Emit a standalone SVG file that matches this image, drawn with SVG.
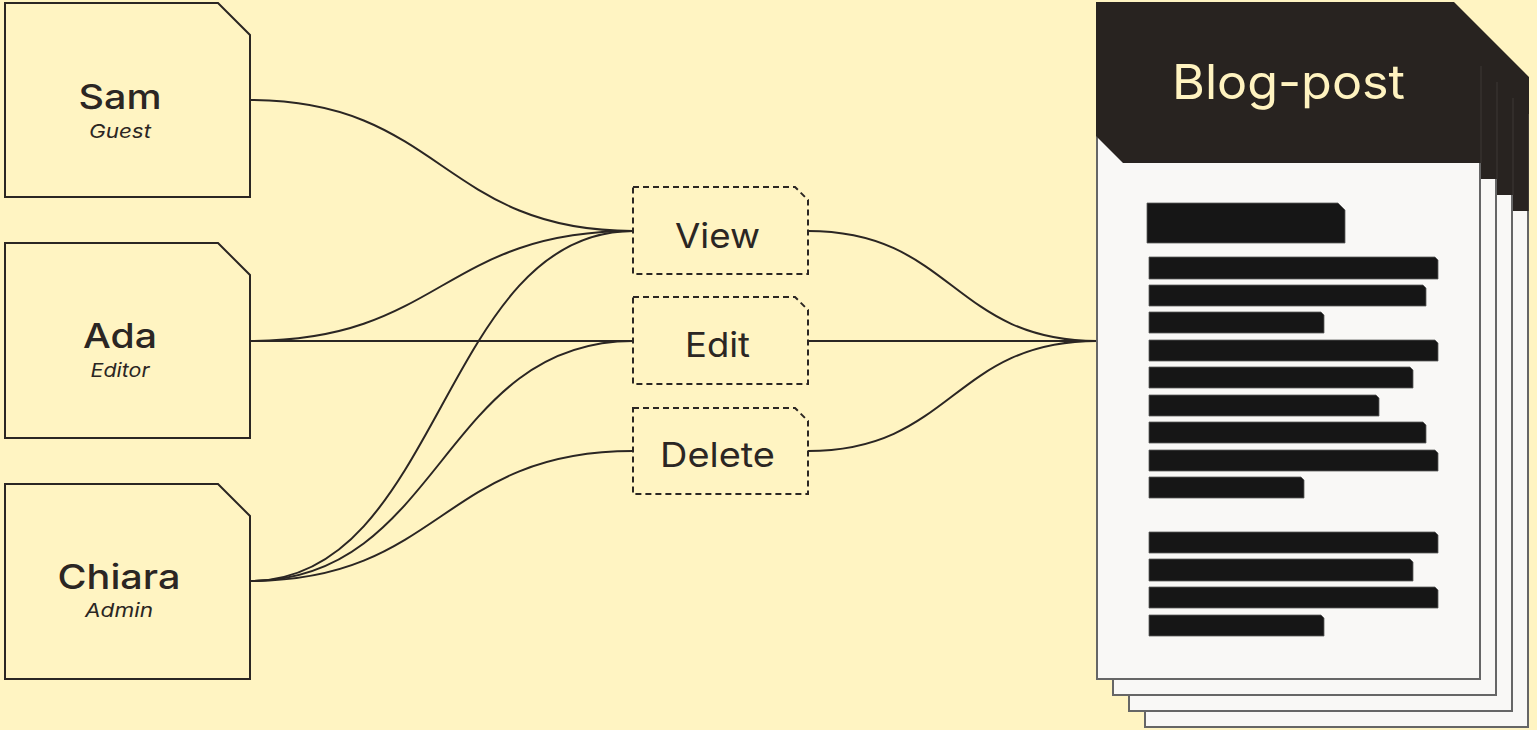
<svg xmlns="http://www.w3.org/2000/svg" width="1537" height="730" viewBox="0 0 1537 730">
  <style>
    .person { fill: #fff4c2; stroke: #2b2623; stroke-width: 2; }
    .action { fill: #fff4c2; stroke: #2b2623; stroke-width: 2; stroke-dasharray: 6 4; }
    .name { font-family: Inter, "DejaVu Sans", sans-serif; font-size: 34px; font-weight: 500; fill: #2b2623; text-anchor: middle; }
    .role { font-family: Inter, "DejaVu Sans", sans-serif; font-size: 19px; font-style: italic; fill: #2b2623; text-anchor: middle; }
    .verb { font-family: Inter, "DejaVu Sans", sans-serif; font-size: 34px; fill: #2b2623; text-anchor: middle; }
    .page { fill: #f9f8f6; stroke: #666666; stroke-width: 2; }
    .bar { fill: #161616; stroke: #5a5a5a; stroke-width: 0.8; }
    .wire { fill: none; stroke: #2b2623; stroke-width: 2; }
  </style>

  <rect width="1537" height="730" fill="#fff4c2"/>

  <!-- connectors -->
  <g id="connectors">
    <path class="wire" d="M250,100 C441.5,100 441.5,231 633,231"/>
    <path class="wire" d="M250,341 C441.5,341 441.5,231 633,231"/>
    <path class="wire" d="M250,341 H633"/>
    <path class="wire" d="M250,581 C441.5,581 441.5,231 633,231"/>
    <path class="wire" d="M250,581 C441.5,581 441.5,341 633,341"/>
    <path class="wire" d="M250,581 C441.5,581 441.5,451 633,451"/>
    <path class="wire" d="M808,231 C952.5,231 952.5,341 1097,341"/>
    <path class="wire" d="M808,341 H1097"/>
    <path class="wire" d="M808,451 C952.5,451 952.5,341 1097,341"/>
  </g>

  <!-- people -->
  <g id="sam">
    <path class="person" d="M5,3 H218 L250,35 V197 H5 Z"/>
    <text class="name" x="120" y="109" textLength="83" lengthAdjust="spacingAndGlyphs">Sam</text>
    <text class="role" x="120" y="138" textLength="62" lengthAdjust="spacingAndGlyphs">Guest</text>
  </g>
  <g id="ada">
    <path class="person" d="M5,243 H218 L250,275 V438 H5 Z"/>
    <text class="name" x="120" y="348" textLength="74" lengthAdjust="spacingAndGlyphs">Ada</text>
    <text class="role" x="120" y="377" textLength="59" lengthAdjust="spacingAndGlyphs">Editor</text>
  </g>
  <g id="chiara">
    <path class="person" d="M5,484 H218 L250,516 V679 H5 Z"/>
    <text class="name" x="119" y="589" textLength="123" lengthAdjust="spacingAndGlyphs">Chiara</text>
    <text class="role" x="119" y="617" textLength="68" lengthAdjust="spacingAndGlyphs">Admin</text>
  </g>

  <!-- permissions -->
  <g id="view">
    <path class="action" d="M633,187 H795 L808,200 V274 H633 Z"/>
    <text class="verb" x="717.5" y="248" textLength="85" lengthAdjust="spacingAndGlyphs">View</text>
  </g>
  <g id="edit">
    <path class="action" d="M633,297 H795 L808,310 V384 H633 Z"/>
    <text class="verb" x="717.5" y="357" textLength="65" lengthAdjust="spacingAndGlyphs">Edit</text>
  </g>
  <g id="delete">
    <path class="action" d="M633,408 H795 L808,421 V494 H633 Z"/>
    <text class="verb" x="717.5" y="467" textLength="115" lengthAdjust="spacingAndGlyphs">Delete</text>
  </g>

  <!-- stacked document: pages back to front, each with a clipped top-right corner -->
  <g id="blog-post">
    <path class="page" d="M1145,51 H1464 L1528,115 V727 H1145 Z"/>
    <path class="page" d="M1129,35 H1448 L1512,99 V711 H1129 Z"/>
    <path class="page" d="M1113,19 H1432 L1496,83 V695 H1113 Z"/>
    <path class="page" d="M1097,3 H1416 L1480,67 V679 H1097 Z"/>
    <path fill="#282320" d="M1096,2 H1454 L1529,77 V211 H1513 V195 H1497 V179 H1481 V163 H1123 L1096,136 Z"/>
    <g stroke="#3d3835" stroke-width="1">
      <line x1="1481" y1="66" x2="1481" y2="163"/>
      <line x1="1497" y1="82" x2="1497" y2="179"/>
      <line x1="1513" y1="98" x2="1513" y2="195"/>
      <line x1="1528.5" y1="114" x2="1528.5" y2="211"/>
    </g>
    <text x="1288.5" y="99" font-family="Inter, 'DejaVu Sans', sans-serif" font-size="48" fill="#fff3c0" text-anchor="middle" textLength="233" lengthAdjust="spacingAndGlyphs">Blog-post</text>

    <!-- heading and body lines -->
    <path class="bar" d="M1147,203 H1338 L1345,210 V243 H1147 Z"/>
    <path class="bar" d="M1149,257 H1435 L1438,260 V279 H1149 Z"/>
    <path class="bar" d="M1149,285 H1423 L1426,288 V306 H1149 Z"/>
    <path class="bar" d="M1149,312 H1321 L1324,315 V333 H1149 Z"/>
    <path class="bar" d="M1149,340 H1435 L1438,343 V361 H1149 Z"/>
    <path class="bar" d="M1149,367 H1410 L1413,370 V388 H1149 Z"/>
    <path class="bar" d="M1149,395 H1376 L1379,398 V416 H1149 Z"/>
    <path class="bar" d="M1149,422 H1423 L1426,425 V443 H1149 Z"/>
    <path class="bar" d="M1149,450 H1435 L1438,453 V471 H1149 Z"/>
    <path class="bar" d="M1149,477 H1301 L1304,480 V498 H1149 Z"/>
    <path class="bar" d="M1149,532 H1435 L1438,535 V553 H1149 Z"/>
    <path class="bar" d="M1149,559 H1410 L1413,562 V581 H1149 Z"/>
    <path class="bar" d="M1149,587 H1435 L1438,590 V608 H1149 Z"/>
    <path class="bar" d="M1149,615 H1321 L1324,618 V636 H1149 Z"/>
  </g>
</svg>
